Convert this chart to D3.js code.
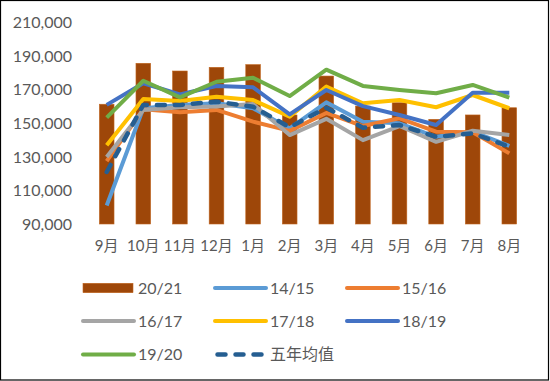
<!DOCTYPE html>
<html>
<head>
<meta charset="utf-8">
<script src="https://cdn.jsdelivr.net/npm/d3@7"></script>
<style>
  html, body { margin: 0; padding: 0; background: #fff; }
  svg { display: block; }
</style>
</head>
<body>
<script>
const months = ["9月","10月","11月","12月","1月","2月","3月","4月","5月","6月","7月","8月"];
const yTicks = [90000,110000,130000,150000,170000,190000,210000];

const bars2021 = [161400,185800,181200,183400,185000,155000,178200,160300,162300,152400,155000,159300];
const s1415 = [101000,159000,161000,162000,159000,147000,162500,151000,150000,142000,145000,136500];
const s1516 = [127500,158400,156600,158000,151000,145500,156200,148400,153000,145000,144700,132100];
const s1617 = [130000,158000,159600,160000,161500,143000,152700,140000,148400,139000,145600,143000];
const s1718 = [137000,164500,163300,165900,163900,154000,172000,162000,163900,159600,166900,159000];
const s1819 = [161000,173900,167300,172300,171500,155300,169900,160300,155000,149000,168300,168300];
const s1920 = [153400,175400,165500,174800,177200,166300,182000,172300,169900,167900,172900,165300];
const avg5  = [121000,161000,161000,162900,159900,147700,159300,147400,149000,142000,144000,136100];

const lineSeries = [
  { name: "14/15", values: s1415, color: "#5B9BD5", dash: null },
  { name: "15/16", values: s1516, color: "#ED7D31", dash: null },
  { name: "16/17", values: s1617, color: "#A5A5A5", dash: null },
  { name: "17/18", values: s1718, color: "#FFC000", dash: null },
  { name: "18/19", values: s1819, color: "#4472C4", dash: null },
  { name: "19/20", values: s1920, color: "#70AD47", dash: null },
  { name: "五年均值", values: avg5, color: "#255E91", dash: "8,10" }
];
const barColor = "#9E4709";
const textColor = "#595959";

const W = 550, H = 381;
const svg = d3.select("body").append("svg").attr("width", W).attr("height", H);
svg.append("rect").attr("x", 0).attr("y", 0).attr("width", W).attr("height", H).attr("fill", "#fff");

const x = d3.scaleBand().domain(months).range([88.4, 527.6]).paddingInner(0.6).paddingOuter(0.3);
const y = d3.scaleLinear().domain([90000, 210000]).range([224, 22.7]);

// y axis labels
const yAxis = d3.axisLeft(y).tickValues(yTicks).tickFormat(d3.format(",")).tickSize(0).tickPadding(0);
const gy = svg.append("g").attr("transform", "translate(72,0)").call(yAxis);
gy.select(".domain").remove();
gy.selectAll("text").attr("fill", textColor).style("font-family", "Lato, 'Noto Sans', sans-serif").style("font-size", "16px");

// x axis labels
const xAxis = d3.axisBottom(x).tickSize(0).tickPadding(0);
const gx = svg.append("g").attr("transform", "translate(0,240)").call(xAxis);
gx.select(".domain").remove();
gx.selectAll("text").attr("fill", textColor).style("font-family", "Lato, 'Noto Sans CJK SC', sans-serif").style("font-size", "15px");

// bars
svg.append("g").selectAll("rect").data(bars2021).join("rect")
  .attr("x", (d, i) => x(months[i]))
  .attr("width", x.bandwidth())
  .attr("y", d => y(d))
  .attr("height", d => y(90000) - y(d))
  .attr("fill", barColor)
  .attr("stroke", "#C0651E").attr("stroke-width", 0.6);

// lines
const line = d3.line().x((d, i) => x(months[i]) + x.bandwidth() / 2).y(d => y(d));
lineSeries.forEach(s => {
  const p = svg.append("path").datum(s.values)
    .attr("d", line)
    .attr("fill", "none")
    .attr("stroke", s.color)
    .attr("stroke-width", s.dash ? 4.5 : 4)
    .attr("stroke-linejoin", "round");
  if (s.dash) p.attr("stroke-dasharray", s.dash).attr("stroke-linecap", "round");
});

// legend
const legendItems = [{ name: "20/21", type: "bar", color: barColor }]
  .concat(lineSeries.map(s => ({ name: s.name, type: "line", color: s.color, dash: s.dash })));
const colX = [83, 215, 347];
const rowY = [288, 321, 354.5];
legendItems.forEach((it, k) => {
  const cx = colX[k % 3], cy = rowY[Math.floor(k / 3)];
  const g = svg.append("g");
  if (it.type === "bar") {
    g.append("rect").attr("x", cx).attr("y", cy - 4.7).attr("width", 50).attr("height", 9.4)
      .attr("fill", it.color).attr("stroke", "#C0651E").attr("stroke-width", 0.6);
  } else {
    const l = g.append("line").attr("x1", it.dash ? cx + 2.5 : cx).attr("x2", it.dash ? cx + 50 : cx + 51)
      .attr("y1", cy).attr("y2", cy).attr("stroke", it.color)
      .attr("stroke-width", it.dash ? 4.5 : 4).attr("stroke-linecap", "round");
    if (it.dash) l.attr("stroke-dasharray", it.dash);
  }
  g.append("text").attr("x", cx + 55).attr("y", cy).attr("dy", "0.35em")
    .attr("fill", textColor)
    .style("font-family", "Lato, 'Noto Sans CJK SC', sans-serif").style("font-size", "16px")
    .text(it.name);
});

// outer border
svg.append("rect").attr("x", 0.5).attr("y", 0.5).attr("width", 548).attr("height", 379.5)
  .attr("fill", "none").attr("stroke", "#000").attr("stroke-width", 1.2);
</script>
</body>
</html>
